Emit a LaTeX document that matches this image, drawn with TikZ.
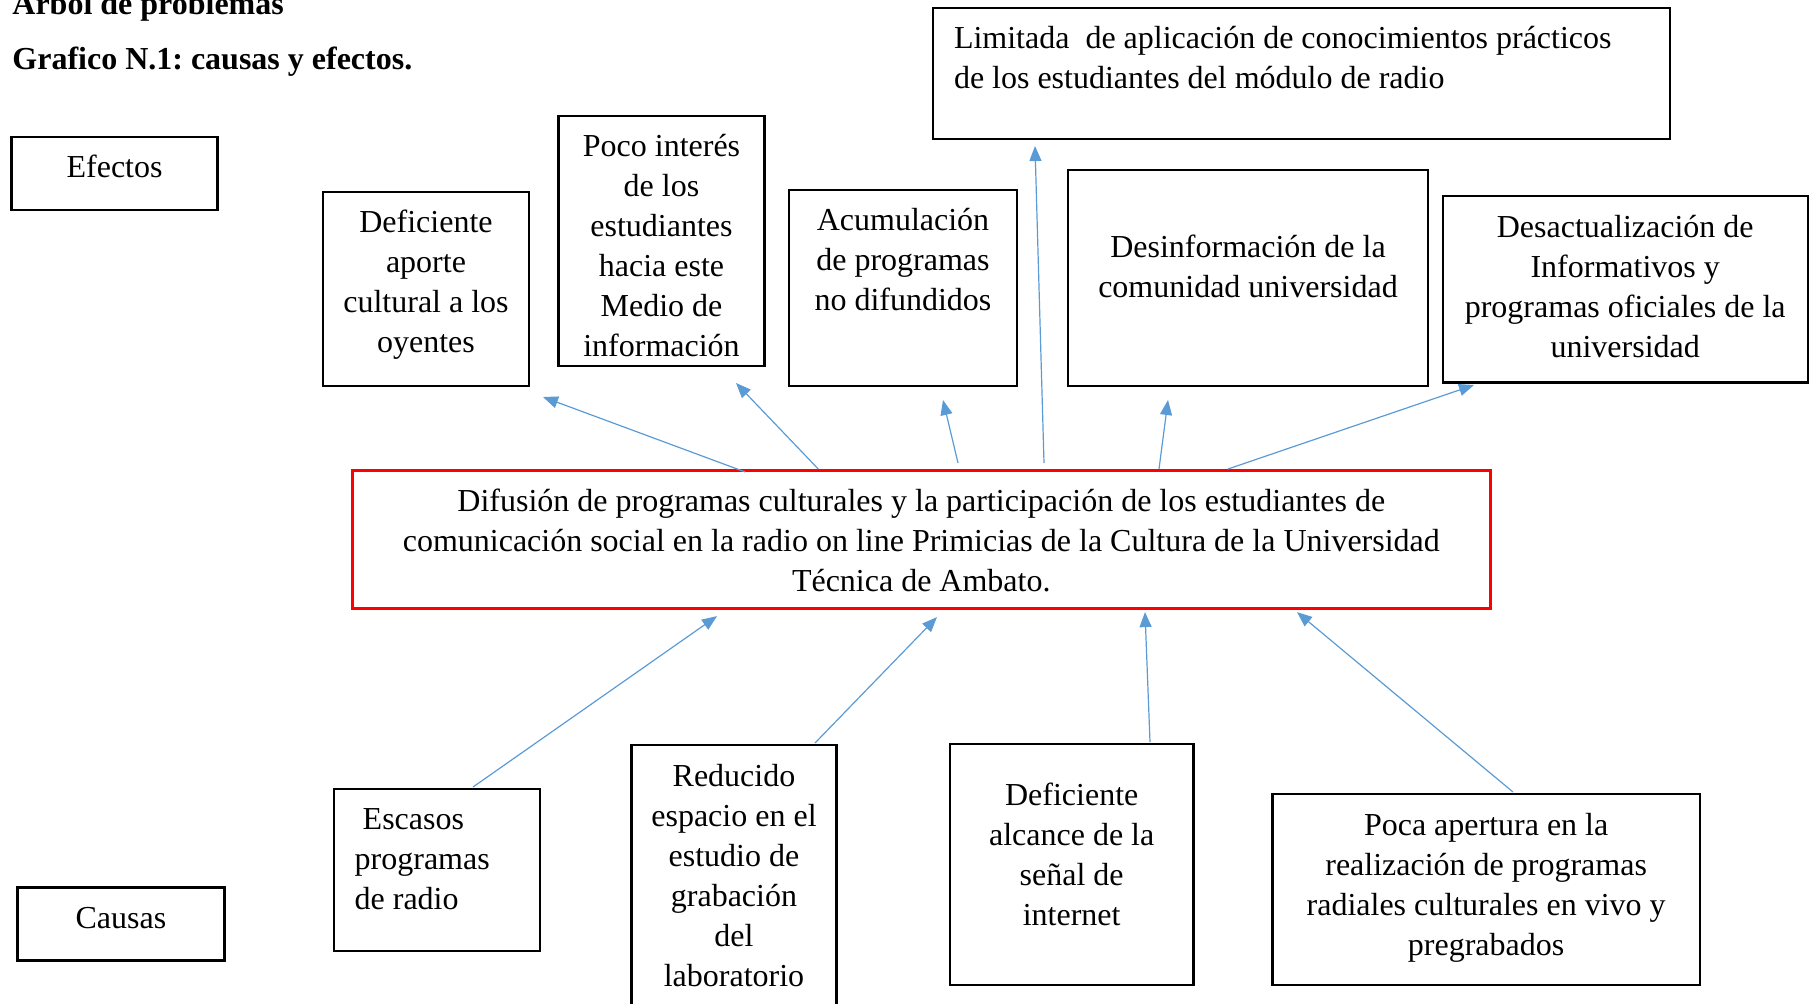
\documentclass[tikz,border=0pt]{standalone}
\usepackage{fontspec}
\setmainfont{Liberation Serif}
\usepackage{tikz}
\usetikzlibrary{arrows.meta,calc}

\definecolor{azul}{RGB}{91,155,213}
\definecolor{rojo}{RGB}{255,0,0}

\frenchspacing

% box text: width, height, top space, lines
\newcommand{\cajac}[4]{\parbox[c][#2][t]{#1}{\centering\vspace*{#3}\strut #4}}
\newcommand{\cajai}[4]{\parbox[c][#2][t]{#1}{\raggedright\leftskip=10.5pt\vspace*{#3}\strut #4}}

\tikzset{
  caja/.style={draw, line width=1.2pt, inner sep=0pt, outer sep=0pt, anchor=north west, font=\fontsize{16}{20}\selectfont},
  titulo/.style={inner sep=0pt, anchor=base west, font=\fontsize{16}{20}\selectfont\bfseries},
  flecha/.style={draw=azul, line width=0.6pt, -{Triangle[length=7.5pt,width=6pt]}},
}

\begin{document}
\begin{tikzpicture}[x=0.5pt,y=0.5pt,yscale=-1,xscale=1]
\useasboundingbox (0,0) rectangle (1817,1003);

% Text Node
\node[titulo] (arbol) at (12,14) {Árbol de problemas};
% Text Node
\node[titulo] (grafico) at (12,69) {Grafico N.1: causas y efectos.};

%Shape: Rectangle
\node[caja] (efectos) at (11.6,136.7) {\cajac{103pt}{36.5pt}{6.25pt}{Efectos}};
%Shape: Rectangle
\node[caja] (causas) at (17.4,887.6) {\cajac{103.5pt}{36.5pt}{6.25pt}{Causas}};

%Shape: Rectangle
\node[caja] (aporte) at (323,192) {\cajac{103pt}{97pt}{6.25pt}{Deficiente\\aporte\\cultural a los\\oyentes}};
%Shape: Rectangle
\node[caja] (interes) at (558.5,116) {\cajac{103pt}{125pt}{6.25pt}{Poco interés\\de los\\estudiantes\\hacia este\\Medio de\\información}};
%Shape: Rectangle
\node[caja] (acumul) at (789,190) {\cajac{114pt}{98pt}{6.25pt}{Acumulación\\de programas\\no difundidos}};
%Shape: Rectangle
\node[caja] (limitada) at (933,8) {\cajai{368.5pt}{65.5pt}{6.25pt}{Limitada\ \ de aplicación de conocimientos prácticos\\de los estudiantes del módulo de radio}};
%Shape: Rectangle
\node[caja] (desinf) at (1068,170) {\cajac{180pt}{108pt}{29.75pt}{Desinformación de la\\comunidad universidad}};
%Shape: Rectangle
\node[caja] (desact) at (1442.7,195.8) {\cajac{182.5pt}{93.3pt}{6.75pt}{Desactualización de\\Informativos y\\programas oficiales de la\\universidad}};

%Shape: Rectangle (problema central)
\node[caja, draw=rojo] (difusion) at (352.3,470.5) {\cajac{569pt}{69pt}{6.25pt}{Difusión de programas culturales y la participación de los estudiantes de\\comunicación social en la radio on line Primicias de la Cultura de la Universidad\\Técnica de Ambato.}};

%Shape: Rectangle
\node[caja] (escasos) at (333.7,789) {\cajai{103pt}{81pt}{6.25pt}{\ Escasos\\programas\\de radio}};
%Shape: Rectangle
\node[caja] (reducido) at (631.5,745) {\cajac{102.5pt}{135pt}{6.75pt}{Reducido\\espacio en el\\estudio de\\grabación\\del\\laboratorio}};
%Shape: Rectangle
\node[caja] (alcance) at (950,744) {\cajac{121.7pt}{120.5pt}{16.75pt}{Deficiente\\alcance de la\\señal de\\internet}};
%Shape: Rectangle
\node[caja] (apertura) at (1272.4,794) {\cajac{213.75pt}{95.5pt}{6.75pt}{Poca apertura en la\\realización de programas\\radiales culturales en vivo y\\pregrabados}};

%Straight Lines (efectos)
\draw[flecha] ($(difusion.north west)+(393,1.5)$) -- ($(aporte.south west)+(220,11)$);
\draw[flecha] ($(difusion.north west)+(466,-1.5)$) -- ($(interes.south west)+(177.5,17)$);
\draw[flecha] ($(difusion.north west)+(605.7,-7.5)$) -- ($(acumul.south west)+(154,14)$);
\draw[flecha] ($(difusion.north west)+(691.7,-7.5)$) -- ($(limitada.south west)+(102,7)$);
\draw[flecha] ($(difusion.north west)+(806.7,-1.5)$) -- ($(desinf.south west)+(100,14)$);
\draw[flecha] ($(difusion.north west)+(875.7,-1.5)$) -- ($(desact.south west)+(31.3,2.6)$);

%Straight Lines (causas)
\draw[flecha] ($(escasos.north west)+(139.3,-2)$) -- ($(difusion.south west)+(364.7,7.6)$);
\draw[flecha] ($(reducido.north west)+(183.5,-2)$) -- ($(difusion.south west)+(584.7,8.6)$);
\draw[flecha] ($(alcance.north west)+(200,-2)$) -- ($(difusion.south west)+(792.7,3.6)$);
\draw[flecha] ($(apertura.north west)+(240.6,-2)$) -- ($(difusion.south west)+(944.7,3.6)$);

\end{tikzpicture}
\end{document}
